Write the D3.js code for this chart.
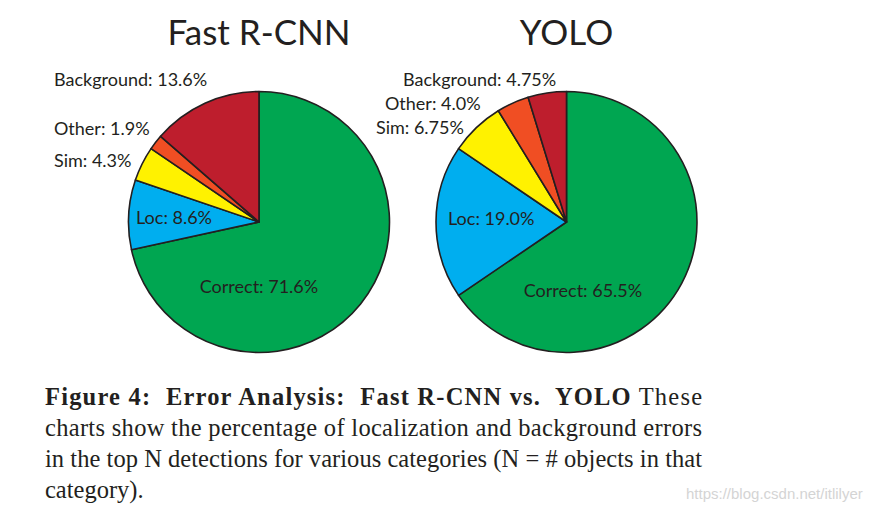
<!DOCTYPE html>
<meta charset="utf-8" />
<head>
  <script src="https://d3js.org/d3.v7.min.js"></script>
  <style>
    body { margin: 0; background: #fff; }
    svg text { fill: #231f20; white-space: pre; }
  </style>
</head>
<body>
  <div id="my_data"></div>
</body>
<script>
  // data
  var categories = ["Correct", "Loc", "Sim", "Other", "Background"];
  var fastRcnn = [71.6, 8.6, 4.3, 1.9, 13.6];
  var yolo = [65.5, 19.0, 6.75, 4.0, 4.75];
  var fastRcnnLabels = ["71.6%", "8.6%", "4.3%", "1.9%", "13.6%"];
  var yoloLabels = ["65.5%", "19.0%", "6.75%", "4.0%", "4.75%"];
  var colors = ["#00a651", "#00aeef", "#fff200", "#f04e23", "#be1e2d"];

  var width = 883, height = 514, radius = 130.5;

  var svg = d3.select("#my_data")
    .append("svg")
    .attr("width", width)
    .attr("height", height);

  // label positions (x, baseline, anchor) for each chart
  var leftPos = [[259, 293, "middle"], [136, 224, "start"], [54, 167, "start"], [54, 135, "start"], [54, 86, "start"]];
  var rightPos = [[583, 297, "middle"], [448, 225, "start"], [376, 134, "start"], [385, 110, "start"], [403, 86, "start"]];

  var pie = d3.pie().sort(null).value(function (d) { return d; });
  var arc = d3.arc().innerRadius(0).outerRadius(radius);

  function drawPie(cx, cy, title, values, labels, pos) {
    var g = svg.append("g").attr("transform", "translate(" + cx + "," + cy + ")");
    g.selectAll("path")
      .data(pie(values))
      .enter()
      .append("path")
      .attr("d", arc)
      .attr("fill", function (d, i) { return colors[i]; })
      .attr("stroke", "#231f20")
      .attr("stroke-width", 1.6)
      .attr("stroke-linejoin", "round");

    svg.append("text")
      .attr("x", cx)
      .attr("y", 45)
      .attr("text-anchor", "middle")
      .style("font-family", "Lato, sans-serif")
      .style("font-size", "35px")
      .text(title);

    svg.selectAll(null)
      .data(categories)
      .enter()
      .append("text")
      .attr("x", function (d, i) { return pos[i][0]; })
      .attr("y", function (d, i) { return pos[i][1]; })
      .attr("text-anchor", function (d, i) { return pos[i][2]; })
      .style("font-family", "Lato, sans-serif")
      .style("font-size", "18px")
      .text(function (d, i) { return d + ": " + labels[i]; });
  }

  drawPie(259, 222, "Fast R-CNN", fastRcnn, fastRcnnLabels, leftPos);
  drawPie(566.5, 222, "YOLO", yolo, yoloLabels, rightPos);

  // caption
  var cap = svg.append("g")
    .style("font-family", "'Liberation Serif', 'Times New Roman', serif")
    .style("font-size", "24.5px");

  var l1 = cap.append("text").attr("x", 45).attr("y", 405)
    .attr("textLength", 657).attr("lengthAdjust", "spacing");
  l1.append("tspan").style("font-weight", "bold").text("Figure 4:  Error Analysis:  Fast R-CNN vs.  YOLO");
  l1.append("tspan").text(" These");

  cap.append("text").attr("x", 45).attr("y", 436)
    .attr("textLength", 657).attr("lengthAdjust", "spacing")
    .text("charts show the percentage of localization and background errors");
  cap.append("text").attr("x", 45).attr("y", 467)
    .attr("textLength", 657).attr("lengthAdjust", "spacing")
    .text("in the top N detections for various categories (N = # objects in that");
  cap.append("text").attr("x", 45).attr("y", 498)
    .text("category).");

  svg.append("text")
    .attr("x", 686)
    .attr("y", 499)
    .style("font-family", "'Liberation Sans', Arial, sans-serif")
    .style("font-size", "15px")
    .style("fill", "#d4d4d4")
    .text("https://blog.csdn.net/itlilyer");
</script>
